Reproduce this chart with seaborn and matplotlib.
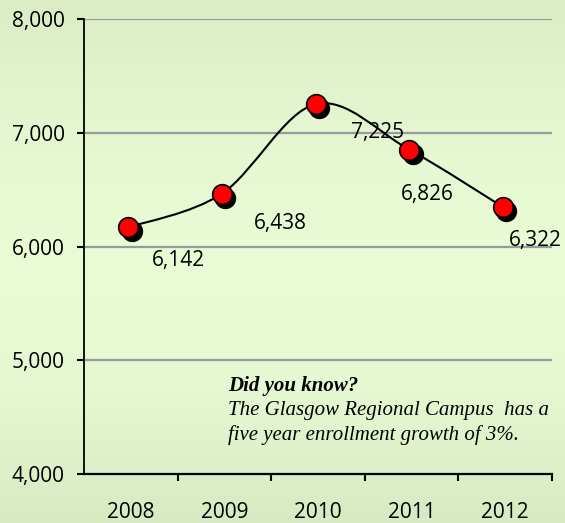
import numpy as np
import pandas as pd
import matplotlib
matplotlib.use("Agg")
import matplotlib.pyplot as plt
import matplotlib.transforms as mtransforms
from matplotlib.path import Path
from matplotlib.patches import PathPatch
from matplotlib.colors import LinearSegmentedColormap
import seaborn as sns

years = ["2008", "2009", "2010", "2011", "2012"]
enrollment = [6142, 6438, 7225, 6826, 6322]
value_labels = ["6,142", "6,438", "7,225", "6,826", "6,322"]
y_ticks = [4000, 5000, 6000, 7000, 8000]
y_tick_labels = ["4,000", "5,000", "6,000", "7,000", "8,000"]

# where Excel put each data label (points, relative to the point)
label_offsets = [(34, -22), (40, -19), (43, -18), (11, -30), (22, -22)]

df = pd.DataFrame({"year": years, "enrollment": enrollment})
df["x"] = np.arange(len(df))

sns.set_theme(style="white")
plt.rcParams["font.family"] = ["Open Sans", "DejaVu Sans"]
plt.rcParams["text.color"] = "black"
plt.rcParams["xtick.color"] = "black"
plt.rcParams["ytick.color"] = "black"

fig = plt.figure(figsize=(5.65, 5.23), dpi=100)

# vertical green gradient behind everything
bg = fig.add_axes([0, 0, 1, 1], zorder=-1)
bg_cmap = LinearSegmentedColormap.from_list(
    "bg", ["#dcedc6", "#e5f7d1", "#e9fcd6", "#e6f8d2", "#d8eac2"])
bg.imshow(np.linspace(0, 1, 256).reshape(-1, 1), aspect="auto", cmap=bg_cmap,
          extent=[0, 1, 0, 1])
bg.set_axis_off()

ax = fig.add_axes([84 / 565, 1 - 474 / 523, 468 / 565, 455 / 523])
ax.patch.set_alpha(0)

# gridlines
for yv in y_ticks[1:]:
    ax.axhline(yv, color="#9a9a9a", lw=1.6, zorder=1)

# smoothed line (Excel-style bezier through the points)
px = df["x"].to_numpy(dtype=float)
py = df["enrollment"].to_numpy(dtype=float)
verts = [(px[0], py[0])]
codes = [Path.MOVETO]
n = len(px)
for i in range(n - 1):
    p0 = np.array([px[max(i - 1, 0)], py[max(i - 1, 0)]])
    p1 = np.array([px[i], py[i]])
    p2 = np.array([px[i + 1], py[i + 1]])
    p3 = np.array([px[min(i + 2, n - 1)], py[min(i + 2, n - 1)]])
    c1 = p1 + (p2 - p0) / 6
    c2 = p2 - (p3 - p1) / 6
    verts += [tuple(c1), tuple(c2), tuple(p2)]
    codes += [Path.CURVE4] * 3

red_shift = mtransforms.offset_copy(ax.transData, fig=fig, x=-2.5, y=3, units="dots")
shadow_shift = mtransforms.offset_copy(ax.transData, fig=fig, x=1, y=-1, units="dots")

ax.add_patch(PathPatch(Path(verts, codes), fill=False, edgecolor="black", lw=1.5,
                       transform=red_shift, zorder=3))

sns.scatterplot(data=df, x="x", y="enrollment", ax=ax, s=200, color="black",
                edgecolor="black", linewidth=1.2, zorder=4, transform=shadow_shift)
sns.scatterplot(data=df, x="x", y="enrollment", ax=ax, s=200, color="#ff0000",
                edgecolor="black", linewidth=1.2, zorder=5, transform=red_shift)

for xi, yi, lab, off in zip(px, py, value_labels, label_offsets):
    ax.annotate(lab, (xi, yi), xytext=off, textcoords="offset points",
                ha="center", va="center", fontsize=15, color="black", zorder=6)

ax.set_xlim(-0.5, n - 0.5)
ax.set_ylim(4000, 8000)
ax.set_yticks(y_ticks)
ax.set_yticklabels(y_tick_labels, fontsize=15)
ax.set_xticks(px)
ax.set_xticklabels(years, fontsize=15)
ax.set_xticks(np.arange(n) + 0.5, minor=True)
ax.tick_params(axis="x", which="major", bottom=True, length=0, pad=20)
ax.tick_params(axis="x", which="minor", bottom=True, length=5, width=1.5,
               color="black", direction="out")
ax.tick_params(axis="y", which="major", left=True, length=5, width=1.5,
               color="black", direction="out", pad=9)
ax.set_xlabel("")
ax.set_ylabel("")

for side in ["top", "right"]:
    ax.spines[side].set_visible(False)
ax.spines["left"].set_color("black")
ax.spines["left"].set_linewidth(1.3)
ax.spines["bottom"].set_color("black")
ax.spines["bottom"].set_linewidth(1.6)

note_font = ["Liberation Serif"]
fig.text(228 / 565, 1 - 386 / 523, "Did you know?", family=note_font, style="italic",
         weight="bold", fontsize=15, va="center", ha="left")
fig.text(228 / 565, 1 - 411 / 523, "The Glasgow Regional Campus  has a", family=note_font,
         style="italic", fontsize=15, va="center", ha="left")
fig.text(228 / 565, 1 - 435 / 523, "five year enrollment growth of 3%.", family=note_font,
         style="italic", fontsize=15, va="center", ha="left")

fig.savefig("out.png", dpi=100)
